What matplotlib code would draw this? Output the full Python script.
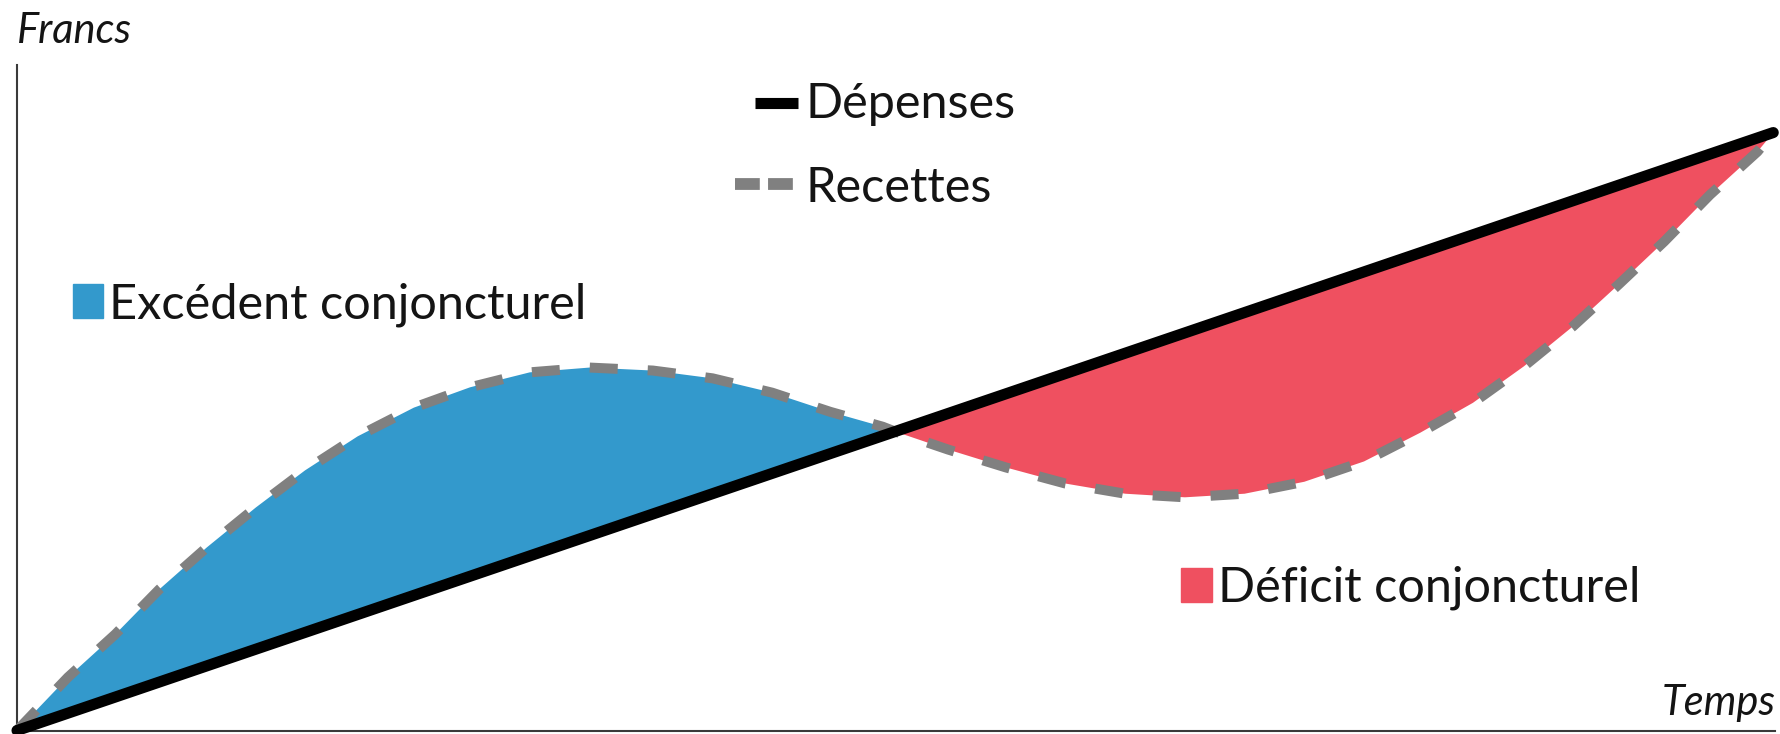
import numpy as np
import matplotlib.pyplot as plt
from matplotlib.lines import Line2D
from matplotlib.patches import Rectangle

# donnees (temps 0-100, francs 0-100)
depenses_x = [0, 100]
depenses_y = [0, 100]

recettes_x = [0, 2.9, 5.6, 8.1, 10.8, 13.6, 16.4, 19.4, 22.6, 25.8, 29.2,
              32.6, 36.2, 39.6, 43.0, 46.3, 49.3, 50.0, 53.0, 56.3, 59.7,
              63.1, 66.5, 69.9, 73.3, 76.7, 79.9, 82.9, 85.8, 88.6, 91.2,
              93.8, 96.4, 99.1, 100]
recettes_y = [0, 8.9, 16.1, 23.6, 30.6, 37.3, 43.5, 49.2, 54.0, 57.4, 59.9,
              60.7, 60.2, 58.9, 56.5, 53.3, 50.8, 50.0, 47.0, 44.0, 41.3,
              39.6, 39.0, 39.6, 41.6, 45.0, 49.8, 54.8, 60.9, 67.6, 74.6,
              81.8, 89.6, 96.8, 100]
croisement = 17  # indice du point ou recettes = depenses

legende_lignes = ['Dépenses', 'Recettes']
legende_zones = ['Excédent conjoncturel', 'Déficit conjoncturel']
titre_y = 'Francs'
titre_x = 'Temps'

bleu = '#3399cc'
rouge = '#ef5060'
gris = '#808080'
encre = '#141414'

W, H = 1780, 734
fig = plt.figure(figsize=(W / 100, H / 100), dpi=100)
ax = fig.add_axes([17 / W, 3.5 / H, (1775 - 17) / W, (730.5 - 65) / H])

rx = np.array(recettes_x)
ry = np.array(recettes_y)
ax.fill(rx[:croisement + 1], ry[:croisement + 1], color=bleu, lw=0)
ax.fill(rx[croisement:], ry[croisement:], color=rouge, lw=0)
ax.plot(rx, ry, color=gris, lw=7.2, dashes=(2.8, 3.0), dash_capstyle='butt',
        solid_joinstyle='round', clip_on=False, zorder=3)
ax.plot(depenses_x, depenses_y, color='black', lw=8, solid_capstyle='round',
        clip_on=False, zorder=4)

ax.set_xlim(0, 100.1)
ax.set_ylim(0, 111.3)
ax.set_xticks([])
ax.set_yticks([])
for s in ['top', 'right']:
    ax.spines[s].set_visible(False)
for s in ['left', 'bottom']:
    ax.spines[s].set_color('#3a3a3a')
    ax.spines[s].set_linewidth(1.5)

fam = ['Lato', 'DejaVu Sans']
poids = 'normal'


def px(x, y):
    return x / W, 1 - y / H


fig.text(*px(17, 43), titre_y, family=fam, weight=poids, style='italic',
         fontsize=30, va='baseline', color=encre)
fig.text(*px(1776, 715), titre_x, family=fam, weight=poids, style='italic',
         fontsize=30, va='baseline', ha='right', color=encre)

# legende des lignes
fig.add_artist(Line2D([755 / W, 798 / W], [1 - 102.5 / H] * 2, color='black',
                      lw=8, solid_capstyle='butt'))
fig.add_artist(Line2D([735 / W, 793 / W], [1 - 184 / H] * 2, color=gris,
                      lw=8.5, dashes=(2.1, 0.7)))
fig.text(*px(806, 118), legende_lignes[0], family=fam, weight=poids,
         fontsize=35, va='baseline', color=encre)
fig.text(*px(806, 202), legende_lignes[1], family=fam, weight=poids,
         fontsize=35, va='baseline', color=encre)

# legende des zones
fig.add_artist(Rectangle(px(73, 318), 30 / W, 34 / H, color=bleu,
                         transform=fig.transFigure))
fig.text(*px(109, 318), legende_zones[0], family=fam, weight=poids,
         fontsize=35, va='baseline', color=encre)
fig.add_artist(Rectangle(px(1181, 602), 31 / W, 34 / H, color=rouge,
                         transform=fig.transFigure))
fig.text(*px(1218, 602), legende_zones[1], family=fam, weight=poids,
         fontsize=35, va='baseline', color=encre)

fig.savefig('out.png', dpi=100)
